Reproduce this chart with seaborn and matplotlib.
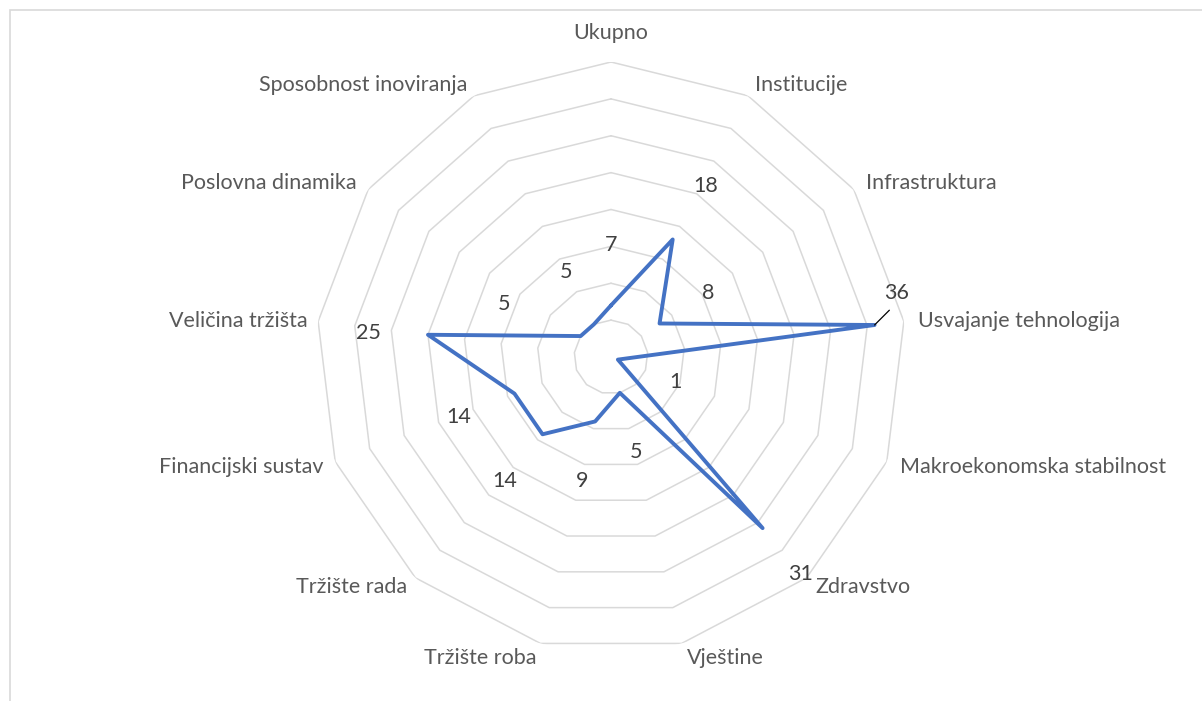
import matplotlib
matplotlib.use("Agg")
import matplotlib.pyplot as plt
import numpy as np
import pandas as pd
import seaborn as sns
from matplotlib.patches import Rectangle

# categories (clockwise from top) and values
categories = ["Ukupno", "Institucije", "Infrastruktura", "Usvajanje tehnologija",
              "Makroekonomska stabilnost", "Zdravstvo", "Vještine", "Tržište roba",
              "Tržište rada", "Financijski sustav", "Veličina tržišta",
              "Poslovna dinamika", "Sposobnost inoviranja"]
values = [7, 18, 8, 36, 1, 31, 5, 9, 14, 14, 25, 5, 5]
ring_levels = [5, 10, 15, 20, 25, 30, 35, 40]

# layout: label offsets in pixels (dx, dy) and alignment
cat_offsets = [(0, 29), (7, 11), (12, 6), (14, 0), (13, -5), (9, -9), (5, -15),
               (-4, -15), (-8, -9), (-12, -5), (-11, 0), (-12, 6), (-7, 11)]
cat_ha = ["center", "left", "left", "left", "left", "left", "left",
          "right", "right", "right", "right", "right", "right"]
val_offsets = [(0, 60), (33, 53), (49, 30), (22, 32), (58, -22), (38, -46),
               (16, -59), (-13, -60), (-38, -47), (-56, -23), (-60, 2),
               (-77, 32), (-28, 52)]

sns.set_theme(style="white")
plt.rcParams["font.family"] = ["Lato", "DejaVu Sans"]

W, H = 1202, 701
fig = plt.figure(figsize=(W / 100, H / 100), dpi=100)

# chart frame (only top/left edges visible)
fig.add_artist(Rectangle((10 / W, -0.1), 1.2, (H - 10) / H + 0.1,
                         transform=fig.transFigure, fill=False,
                         edgecolor="#d9d9d9", lw=1.2))

cx, cy, R = 611, 357, 295
ax = fig.add_axes([(cx - R) / W, (H - cy - R) / H, 2 * R / W, 2 * R / H],
                  projection="polar")
ax.set_theta_zero_location("N")
ax.set_theta_direction(-1)
ax.set_ylim(0, 40)
ax.grid(False)
ax.set_xticks([])
ax.set_yticks([])
ax.spines["polar"].set_visible(False)
ax.set_facecolor("none")

n = len(categories)
theta = np.arange(n) * 2 * np.pi / n
theta_c = np.append(theta, theta[0])

for r in ring_levels:
    ax.plot(theta_c, [r] * (n + 1), color="#d9d9d9", lw=1.1, zorder=1)

df = pd.DataFrame({"theta": theta_c, "value": values + values[:1]})
sns.lineplot(data=df, x="theta", y="value", sort=False, estimator=None,
             color="#4472C4", lw=2.8, ax=ax, zorder=3,
             solid_joinstyle="round")
ax.set_xlabel("")
ax.set_ylabel("")

for t, lab, (dx, dy), ha in zip(theta, categories, cat_offsets, cat_ha):
    ax.annotate(lab, xy=(t, 40), xytext=(dx, dy), textcoords="offset pixels",
                ha=ha, va="center", fontsize=15.5, color="#595959",
                annotation_clip=False)

for i, (t, v, (dx, dy)) in enumerate(zip(theta, values, val_offsets)):
    kw = {}
    if categories[i] == "Usvajanje tehnologija":
        # leader line from the moved label back to its point
        kw["arrowprops"] = dict(arrowstyle="-", color="black", lw=0.9,
                                relpos=(0.5, 0), shrinkA=4, shrinkB=0)
    ax.annotate(str(v), xy=(t, v), xytext=(dx, dy), textcoords="offset pixels",
                ha="center", va="center", fontsize=15.5, color="#404040",
                annotation_clip=False, **kw)

fig.savefig("out.png", dpi=100)
